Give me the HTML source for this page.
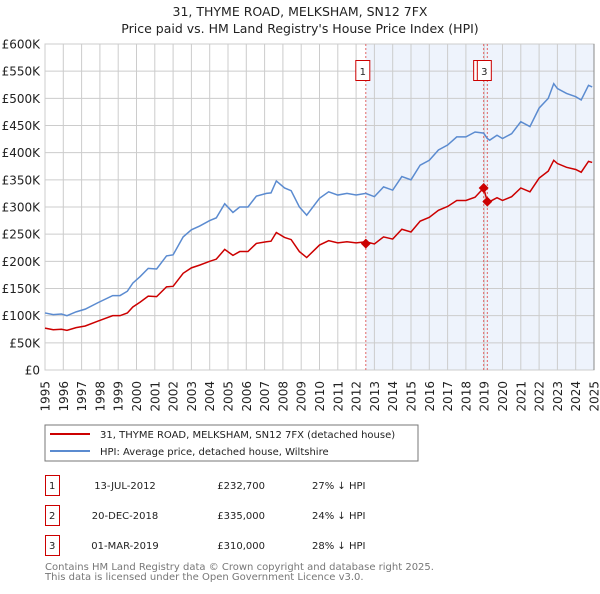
<!DOCTYPE html>
<html><head><meta charset="utf-8"><style>
body{margin:0;background:#fff;font-family:"DejaVu Sans","Liberation Sans",sans-serif;}
svg text{font-family:"DejaVu Sans","Liberation Sans",sans-serif;}
</style></head><body>
<svg id="chart" width="600" height="590" xmlns="http://www.w3.org/2000/svg">
<text x="300" y="16" text-anchor="middle" font-size="12.5" fill="#222">31, THYME ROAD, MELKSHAM, SN12 7FX</text>
<text x="300" y="33" text-anchor="middle" font-size="12.5" fill="#222">Price paid vs. HM Land Registry's House Price Index (HPI)</text>
<g id="plot"></g>
<g>
<rect x="45" y="425" width="373" height="36" fill="#fff" stroke="#777"/>
<line x1="50" y1="434" x2="90" y2="434" stroke="#cc0000" stroke-width="2"/>
<text x="100" y="438" font-size="10" fill="#222">31, THYME ROAD, MELKSHAM, SN12 7FX (detached house)</text>
<line x1="50" y1="451" x2="90" y2="451" stroke="#5b8bd0" stroke-width="2"/>
<text x="100" y="455" font-size="10" fill="#222">HPI: Average price, detached house, Wiltshire</text>
</g>
<g font-size="10" fill="#222">
<rect x="45.5" y="475.5" width="14" height="20" fill="none" stroke="#cc0000"/><text x="49" y="489">1</text>
<text x="125" y="489" text-anchor="middle">13-JUL-2012</text><text x="265" y="489" text-anchor="end">£232,700</text><text x="312" y="489">27% ↓ HPI</text>
<rect x="45.5" y="505.5" width="14" height="20" fill="none" stroke="#cc0000"/><text x="49" y="519">2</text>
<text x="125" y="519" text-anchor="middle">20-DEC-2018</text><text x="265" y="519" text-anchor="end">£335,000</text><text x="312" y="519">24% ↓ HPI</text>
<rect x="45.5" y="535.5" width="14" height="20" fill="none" stroke="#cc0000"/><text x="49" y="549">3</text>
<text x="125" y="549" text-anchor="middle">01-MAR-2019</text><text x="265" y="549" text-anchor="end">£310,000</text><text x="312" y="549">28% ↓ HPI</text>
</g>
<text x="45" y="570" font-size="10" fill="#777">Contains HM Land Registry data © Crown copyright and database right 2025.</text>
<text x="45" y="580" font-size="10" fill="#777">This data is licensed under the Open Government Licence v3.0.</text>
</svg>
<script>
const hpiYears=[1995,1995.45,1995.9,1996.2,1996.7,1997.2,1997.9,1998.7,1999.1,1999.5,1999.8,2000.2,2000.64,2001.1,2001.64,2002,2002.55,2003,2003.45,2004,2004.36,2004.82,2005.27,2005.64,2006.09,2006.55,2007.1,2007.35,2007.64,2008.09,2008.45,2008.9,2009.3,2010,2010.5,2011,2011.5,2012,2012.53,2013,2013.5,2014,2014.5,2015,2015.5,2016,2016.5,2017,2017.5,2018,2018.5,2018.97,2019.17,2019.3,2019.7,2020,2020.5,2021,2021.5,2022,2022.5,2022.8,2023,2023.5,2024,2024.3,2024.7,2024.9];
const hpiValues=[105,102,103,100,107,112,124,137,137,145,160,172,187,186,210,212,245,258,265,275,280,306,290,300,300,320,325,326,348,335,330,300,285,316,328,322,325,322,325,319,337,331,356,350,377,386,405,414,429,429,438,436,426,423,432,426,435,457,448,482,500,527,518,509,503,497,524,521];
const redYears=hpiYears;
const redValues=[77,74,75,73,78,81,90,100,100,105,116,125,136,135,153,154,178,188,193,200,204,222,211,218,218,233,236,237,253,244,240,218,207,230,238,234,236,234,236,232,245,241,259,254,274,281,294,301,312,312,318,335,310,310,317,312,319,335,328,353,366,386,380,373,369,364,384,382];
const sales=[{n:"1",y:2012.53,v:232.7},{n:"2",y:2018.97,v:335},{n:"3",y:2019.17,v:310}];
const yTicks=[0,50,100,150,200,250,300,350,400,450,500,550,600];
const yTickLabels=["£0","£50K","£100K","£150K","£200K","£250K","£300K","£350K","£400K","£450K","£500K","£550K","£600K"];
const xTicks=[1995,1996,1997,1998,1999,2000,2001,2002,2003,2004,2005,2006,2007,2008,2009,2010,2011,2012,2013,2014,2015,2016,2017,2018,2019,2020,2021,2022,2023,2024,2025];
const X0=45,X1=594,Y0=370,Y1=44;
const xs=y=>X0+(y-1995)/30*(X1-X0);
const ys=v=>Y0-v/600*(Y0-Y1);
const NS="http://www.w3.org/2000/svg";
const g=document.getElementById('plot');
function mk(t,a){const e=document.createElementNS(NS,t);for(const k in a)e.setAttribute(k,a[k]);g.appendChild(e);return e;}
let e;
e=mk('rect',{x:xs(sales[0].y),y:Y1,width:X1-xs(sales[0].y),height:Y0-Y1,fill:'#eef3fc'});


yTicks.forEach((t,i)=>{
 e=mk('line',{x1:X0,x2:X1,y1:ys(t),y2:ys(t),stroke:'#cccccc','stroke-width':1});
 
 
 e=mk('text',{x:40,y:ys(t)+4.5,'text-anchor':'end','font-size':'12',fill:'#222'});
 e.textContent=yTickLabels[i];
 
 
});
xTicks.forEach(t=>{
 e=mk('line',{x1:xs(t),x2:xs(t),y1:Y1,y2:Y0,stroke:'#cccccc','stroke-width':1});
 
 
 const lx=xs(t)+4.5;
 e=mk('text',{x:lx,y:381,'text-anchor':'end','font-size':'12',fill:'#222',transform:`rotate(-90 ${lx} 381)`});
 e.textContent=t;
 
 
});
e=mk('rect',{x:X0,y:Y1,width:X1-X0,height:Y0-Y1,fill:'none',stroke:'#cccccc'});


e=mk('line',{x1:X1,x2:X1,y1:Y1,y2:Y0,stroke:'#888','stroke-width':1});


sales.forEach(s=>{
 e=mk('line',{x1:xs(s.y),x2:xs(s.y),y1:Y1,y2:Y0,stroke:'#e06666','stroke-width':1,'stroke-dasharray':'2,2'});
 
 
});
e=mk('polyline',{points:hpiYears.map((y,i)=>xs(y)+','+ys(hpiValues[i])).join(' '),fill:'none',stroke:'#5b8bd0','stroke-width':1.5});


e=mk('polyline',{points:redYears.map((y,i)=>xs(y)+','+ys(redValues[i])).join(' '),fill:'none',stroke:'#cc0000','stroke-width':1.5});


sales.forEach(s=>{
 const cx=xs(s.y),cy=ys(s.v);
 e=mk('polygon',{points:`${cx},${cy-5} ${cx+5},${cy} ${cx},${cy+5} ${cx-5},${cy}`,fill:'#cc0000'});
 
 
});
sales.forEach(s=>{
 const cx=xs(s.y);
 e=mk('rect',{x:cx-10,y:60.5,width:14,height:20,fill:'#fff',stroke:'#cc0000'});
 
 
 e=mk('text',{x:cx-3,y:75,'text-anchor':'middle','font-size':'10',fill:'#222'});
 e.textContent=s.n;
 
 
});
</script>
</body></html>
